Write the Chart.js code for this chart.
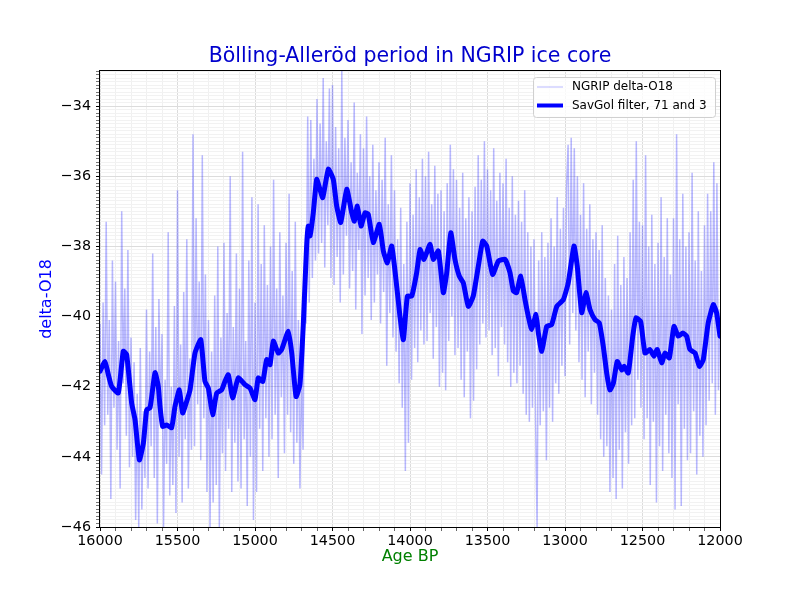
<!DOCTYPE html>
<html>
<head>
<meta charset="utf-8">
<title>Bölling-Alleröd period in NGRIP ice core</title>
<script src="https://cdn.jsdelivr.net/npm/chart.js@4.4.1/dist/chart.umd.min.js"></script>
<style>
  html, body { margin: 0; padding: 0; background: #ffffff; }
  #wrap { width: 800px; height: 592px; }
</style>
</head>
<body>
<div id="wrap"><canvas id="iceChart" width="800" height="592"></canvas></div>
<script>

// =============================
// DATA
// =============================

// raw record: one value every 10 years, from 16000 BP down to 12000 BP
const rawStartAge = 16000;
const rawStepYears = 10;

const rawDelta = [
  -40.2, -44.5, -39.6, -43.1, -37.3, -42.8, -40.1, -45.2, -38.4, -42.6,
  -39.0, -43.8, -40.7, -44.9, -37.0, -41.9, -39.2, -43.4, -38.1, -44.3,
  -40.6, -44.0, -41.3, -45.8, -42.2, -46.0, -40.9, -45.5, -42.7, -44.6,
  -39.8, -44.9, -41.0, -43.7, -38.2, -44.6, -40.3, -45.9, -39.5, -43.0,
  -40.5, -46.0, -41.8, -44.2, -37.6, -45.1, -42.0, -44.8, -39.7, -45.6,
  -36.4, -44.0, -40.8, -45.3, -39.3, -43.5, -37.8, -44.9, -41.2, -43.8,
  -34.8, -43.7, -37.2, -42.5, -39.0, -44.1, -35.4, -42.9, -38.8, -45.0,
  -40.1, -46.0, -41.0, -45.3, -39.4, -44.8, -38.0, -46.0, -40.6, -43.9,
  -37.9, -44.4, -39.9, -43.2, -36.0, -45.0, -40.3, -43.6, -38.2, -44.7,
  -39.2, -44.9, -35.3, -43.5, -40.7, -45.4, -38.4, -44.0, -36.6, -45.8,
  -39.6, -45.0, -36.8, -43.2, -38.5, -44.4, -37.4, -42.9, -39.1, -44.0,
  -38.0, -43.5, -36.1, -42.8, -39.2, -44.6, -37.6, -42.3, -39.4, -43.9,
  -37.9, -42.8, -36.5, -43.3, -38.7, -44.2, -37.3, -43.6, -40.1, -44.9,
  -41.5, -43.8, -38.4, -40.2, -34.3, -39.6, -34.4, -38.9, -35.5, -38.4,
  -33.8, -38.2, -34.5, -37.9, -33.2, -38.6, -35.0, -37.4, -33.5, -38.9,
  -33.4, -39.1, -34.6, -38.3, -35.2, -39.6, -33.0, -38.8, -34.9, -37.7,
  -34.4, -39.2, -35.6, -38.7, -33.9, -39.8, -35.9, -38.1, -34.8, -40.5,
  -35.2, -39.4, -34.3, -38.9, -36.0, -40.1, -35.1, -39.6, -36.4, -38.8,
  -35.6, -40.2, -36.1, -39.3, -34.9, -41.4, -36.8, -39.9, -35.4, -40.6,
  -36.4, -41.0, -37.8, -41.9, -36.9, -42.6, -38.5, -44.4, -37.3, -43.6,
  -36.2, -41.8, -37.1, -40.9, -35.8, -41.3, -36.6, -40.4, -35.5, -40.8,
  -36.0, -40.7, -35.3, -39.9, -36.8, -41.2, -35.7, -40.3, -36.5, -42.0,
  -36.4, -41.6, -37.0, -42.1, -36.2, -40.7, -35.1, -40.0, -35.8, -41.1,
  -36.1, -40.9, -36.9, -41.8, -35.9, -42.3, -37.2, -41.0, -36.6, -42.9,
  -37.0, -42.4, -36.3, -41.5, -35.4, -40.8, -36.1, -40.2, -35.0, -40.6,
  -35.8, -40.4, -36.4, -41.1, -35.2, -40.9, -36.7, -41.7, -35.9, -40.3,
  -36.2, -40.8, -35.5, -41.3, -36.9, -42.0, -36.0, -41.6, -37.1, -41.9,
  -36.7, -41.4, -37.3, -42.2, -36.4, -42.8, -37.6, -43.0, -38.0, -42.6,
  -37.8, -42.9, -46.0, -38.4, -43.1, -37.6, -42.7, -38.3, -44.1, -37.9,
  -42.6, -37.2, -43.0, -38.0, -41.9, -36.6, -42.2, -37.5, -41.4, -36.9,
  -41.7, -36.3, -35.1, -40.8, -34.9, -39.9, -35.2, -40.4, -36.0, -41.3,
  -37.1, -41.8, -36.2, -42.3, -37.5, -41.0, -36.8, -42.5, -37.8, -41.6,
  -37.6, -42.8, -38.1, -43.5, -37.4, -44.0, -38.9, -43.7, -39.4, -45.0,
  -39.8, -44.6, -38.5, -45.2, -37.7, -43.8, -39.1, -44.9, -38.3, -43.3,
  -38.9, -44.2, -37.6, -43.1, -36.1, -42.9, -35.0, -41.8, -37.3, -42.6,
  -37.4, -43.5, -35.4, -42.9, -38.0, -44.8, -37.1, -43.0, -38.5, -45.3,
  -37.9, -43.7, -36.6, -44.4, -38.3, -42.8, -37.2, -43.9, -38.8, -44.6,
  -37.2, -45.5, -34.8, -42.5, -37.8, -45.4, -36.5, -43.2, -38.0, -44.1,
  -37.6, -43.9, -35.9, -42.7, -38.4, -44.5, -37.0, -43.4, -38.7, -44.0,
  -37.4, -43.1, -36.5, -42.4, -37.0, -41.9, -35.6, -42.8, -36.2, -42.1,
  -39.8
];

// Savitzky-Golay smoothed curve
const smoothAge = [
  16000, 15968, 15946, 15925, 15882, 15850, 15828, 15796, 15774, 15746,
  15720, 15699, 15677, 15645, 15624, 15613, 15596, 15570, 15538, 15516,
  15488, 15467, 15441, 15419, 15387, 15350, 15323, 15301, 15273, 15247,
  15215, 15194, 15172, 15144, 15108, 15065, 15032, 15000, 14979, 14950,
  14925, 14903, 14882, 14850, 14828, 14785, 14763, 14735, 14710, 14688,
  14667, 14656, 14645, 14624, 14602, 14581, 14563, 14527, 14495, 14473,
  14447, 14408, 14376, 14359, 14340, 14316, 14290, 14269, 14237, 14198,
  14172, 14146, 14118, 14086, 14065, 14043, 14017, 13989, 13957, 13935,
  13910, 13871, 13850, 13817, 13785, 13763, 13737, 13710, 13682, 13656,
  13624, 13592, 13559, 13531, 13505, 13467, 13430, 13387, 13355, 13333,
  13312, 13286, 13258, 13237, 13215, 13187, 13172, 13150, 13118, 13086,
  13053, 13011, 12979, 12942, 12921, 12892, 12865, 12839, 12806, 12779,
  12753, 12731, 12710, 12688, 12663, 12634, 12619, 12592, 12563, 12542,
  12512, 12484, 12452, 12426, 12405, 12376, 12355, 12327, 12297, 12269,
  12240, 12215, 12194, 12161, 12133, 12108, 12076, 12043, 12022, 12000
];

const smoothDelta = [
  -41.56, -41.28, -41.66, -41.99, -42.18, -40.99, -41.09, -42.46, -42.94, -44.09,
  -43.60, -42.66, -42.60, -41.60, -41.99, -42.56, -43.13, -43.09, -43.17, -42.56,
  -42.09, -42.75, -42.42, -42.09, -41.04, -40.66, -41.85, -42.04, -42.80, -42.18,
  -42.09, -41.85, -41.66, -42.32, -41.75, -41.94, -42.04, -42.37, -41.75, -41.85,
  -41.23, -41.37, -40.70, -41.04, -40.94, -40.42, -41.04, -42.28, -41.94, -40.18,
  -37.99, -37.42, -37.70, -37.04, -36.09, -36.37, -36.61, -35.80, -36.09, -36.85,
  -37.32, -36.37, -37.04, -37.28, -36.85, -37.42, -37.04, -37.09, -37.89, -37.37,
  -38.13, -38.47, -37.99, -39.13, -39.99, -40.66, -39.42, -39.42, -38.75, -38.09,
  -38.37, -37.94, -38.37, -38.13, -39.32, -38.75, -37.61, -38.37, -38.85, -39.04,
  -39.71, -39.42, -38.56, -37.85, -37.99, -38.80, -38.42, -38.37, -38.75, -39.27,
  -39.32, -38.85, -39.52, -39.99, -40.37, -39.94, -40.47, -40.99, -40.28, -40.23,
  -39.71, -39.52, -39.04, -37.99, -38.56, -39.89, -39.32, -39.80, -40.09, -40.18,
  -40.85, -41.61, -42.09, -41.90, -41.28, -41.52, -41.42, -41.61, -40.56, -40.04,
  -40.14, -41.04, -40.94, -41.13, -40.94, -41.32, -41.04, -41.18, -40.28, -40.56,
  -40.47, -40.56, -40.94, -41.04, -41.42, -41.23, -40.18, -39.66, -39.89, -40.56
];

const xTickLabels = [16000, 15500, 15000, 14500, 14000, 13500, 13000, 12500, 12000];
const yTickLabels = [-46, -44, -42, -40, -38, -36, -34];

const titleText = 'Bölling-Alleröd period in NGRIP ice core';
const xTitleText = 'Age BP';
const yTitleText = 'delta-O18';
const rawLabel = 'NGRIP delta-O18';
const smoothLabel = 'SavGol filter, 71 and 3';


// =============================
// BUILD POINTS
// =============================

const rawPoints = rawDelta.map((v, i) => ({ x: rawStartAge - i * rawStepYears, y: v }));
const smoothPoints = smoothAge.map((a, i) => ({ x: a, y: smoothDelta[i] }));

const FONT = 'DejaVu Sans';
const RAW_COLOR = 'rgba(0, 0, 255, 0.28)';
const SMOOTH_COLOR = '#0000ff';

Chart.defaults.font.family = FONT;


// =============================
// FRAME, TITLES AND LEGEND
// =============================

const decorPlugin = {
  id: 'decor',
  afterDraw(chart) {
    const ctx = chart.ctx;
    const a = chart.chartArea;

    ctx.save();

    // axes frame on all four sides
    ctx.strokeStyle = '#000000';
    ctx.lineWidth = 1;
    ctx.strokeRect(Math.round(a.left) - 0.5, Math.round(a.top) - 0.5,
      Math.round(a.right - a.left) + 1, Math.round(a.bottom - a.top) + 1);

    // title
    ctx.fillStyle = '#0000cd';
    ctx.font = '20.5px "' + FONT + '"';
    ctx.textAlign = 'center';
    ctx.textBaseline = 'middle';
    ctx.fillText(titleText, (a.left + a.right) / 2, 57);

    // x axis title
    ctx.fillStyle = '#008000';
    ctx.font = '16px "' + FONT + '"';
    ctx.fillText(xTitleText, (a.left + a.right) / 2, 557);

    // y axis title
    ctx.save();
    ctx.translate(47, (a.top + a.bottom) / 2);
    ctx.rotate(-Math.PI / 2);
    ctx.fillStyle = '#0000ff';
    ctx.fillText(yTitleText, 0, 0);
    ctx.restore();

    // legend box, upper right
    const w = 182, h = 40;
    const lx = a.right - 5 - w;
    const ly = a.top + 6;
    ctx.beginPath();
    ctx.roundRect(lx + 0.5, ly + 0.5, w, h, 3);
    ctx.fillStyle = 'rgba(255, 255, 255, 0.8)';
    ctx.fill();
    ctx.strokeStyle = '#d0d0d0';
    ctx.stroke();

    const rows = [
      { label: rawLabel, color: RAW_COLOR, width: 1, y: ly + 10 },
      { label: smoothLabel, color: SMOOTH_COLOR, width: 4, y: ly + 28.5 }
    ];

    rows.forEach(row => {
      ctx.beginPath();
      ctx.moveTo(lx + 4, row.y);
      ctx.lineTo(lx + 30, row.y);
      ctx.strokeStyle = row.color;
      ctx.lineWidth = row.width;
      ctx.stroke();

      ctx.fillStyle = '#000000';
      ctx.font = '12px "' + FONT + '"';
      ctx.textAlign = 'left';
      ctx.textBaseline = 'middle';
      ctx.fillText(row.label, lx + 39, row.y);
    });

    ctx.restore();
  }
};


// =============================
// CHART
// =============================

const isMajorX = v => xTickLabels.includes(Math.round(v));
const isMajorY = v => yTickLabels.includes(Math.round(v * 10) / 10);

new Chart(document.getElementById('iceChart'), {

  type: 'line',

  data: {
    datasets: [
      {
        label: rawLabel,
        data: rawPoints,
        borderColor: RAW_COLOR,
        borderWidth: 1.5,
        pointRadius: 0,
        tension: 0
      },
      {
        label: smoothLabel,
        data: smoothPoints,
        borderColor: SMOOTH_COLOR,
        borderWidth: 5,
        pointRadius: 0,
        tension: 0.15,
        borderJoinStyle: 'round',
        borderCapStyle: 'round'
      }
    ]
  },

  options: {
    responsive: false,
    animation: false,
    events: [],
    layout: {
      padding: { top: 71, right: 80, left: 0, bottom: 0 }
    },
    plugins: {
      legend: { display: false },
      tooltip: { enabled: false },
      title: { display: false }
    },
    scales: {
      x: {
        type: 'linear',
        reverse: true,
        min: 12000,
        max: 16000,
        afterFit: scale => { scale.height = 65; },
        border: { display: false },
        grid: {
          color: c => isMajorX(c.tick.value) ? '#dcdcdc' : '#f0f0f0',
          tickColor: c => isMajorX(c.tick.value) ? '#000000' : '#666666',
          tickLength: 4
        },
        ticks: {
          stepSize: 100,
          autoSkip: false,
          maxRotation: 0,
          padding: 2,
          color: '#000000',
          font: { size: 14.3 },
          callback: v => isMajorX(v) ? String(v) : ''
        }
      },
      y: {
        type: 'linear',
        min: -46,
        max: -33,
        afterFit: scale => { scale.width = 100; },
        border: { display: false },
        grid: {
          color: c => isMajorY(c.tick.value) ? '#dcdcdc' : '#f2f2f2',
          tickColor: c => isMajorY(c.tick.value) ? '#000000' : '#777777',
          tickLength: 4
        },
        ticks: {
          stepSize: 0.1,
          autoSkip: false,
          padding: 5,
          color: '#000000',
          font: { size: 14.3 },
          callback: v => isMajorY(v) ? '\u2212' + Math.abs(Math.round(v)) : ''
        }
      }
    }
  },

  plugins: [decorPlugin]

});

</script>
</body>
</html>
